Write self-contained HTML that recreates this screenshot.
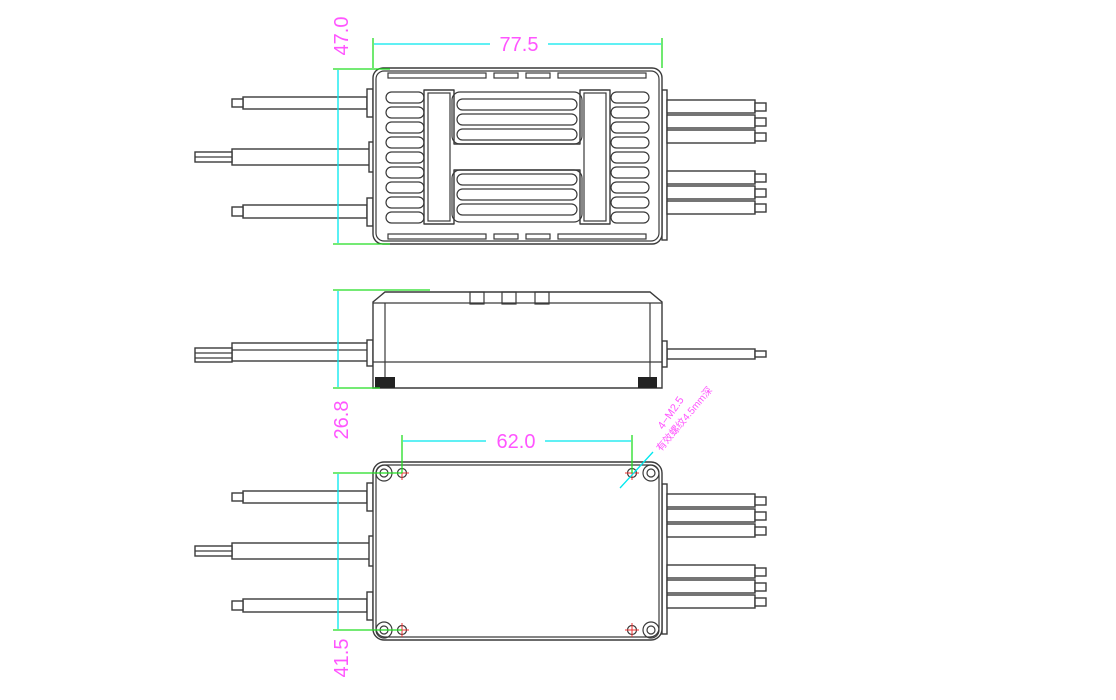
<!DOCTYPE html>
<html><head><meta charset="utf-8"><style>
html,body{margin:0;padding:0;background:#fff;}
svg{display:block}
.l{fill:#fff;stroke:#3a3a3a;stroke-width:1.4}
.n{fill:none;stroke:#3a3a3a;stroke-width:1.2}
.c{stroke:#00e8ee;stroke-width:1.3;fill:none}
.g{stroke:#22dd22;stroke-width:1.3;fill:none}
.t{fill:#ff55ff;font-family:"Liberation Sans",sans-serif;font-size:20px}
</style></head><body>
<svg width="1116" height="700" viewBox="0 0 1116 700" xmlns="http://www.w3.org/2000/svg">
<defs>
<g id="lw">
  <rect class="l" x="243" y="97" width="124" height="12"/>
  <rect class="l" x="232" y="99" width="11" height="8"/>
  <rect class="l" x="367" y="89" width="6" height="28"/>
  <rect class="l" x="232" y="149" width="138" height="16"/>
  <rect class="l" x="195" y="152" width="37" height="10"/>
  <line class="n" x1="195" y1="157" x2="232" y2="157"/>
  <rect class="l" x="369" y="142" width="5" height="30"/>
  <rect class="l" x="243" y="205" width="124" height="13"/>
  <rect class="l" x="232" y="207" width="11" height="9"/>
  <rect class="l" x="367" y="198" width="6" height="28"/>
</g>
<g id="rw">
  <rect class="l" x="662" y="90" width="5" height="150"/>
  <rect class="l" x="667" y="100" width="88" height="13"/><rect class="l" x="755" y="103" width="11" height="8"/>
  <rect class="l" x="667" y="115" width="88" height="13"/><rect class="l" x="755" y="118" width="11" height="8"/>
  <rect class="l" x="667" y="130" width="88" height="13"/><rect class="l" x="755" y="133" width="11" height="8"/>
  <rect class="l" x="667" y="171" width="88" height="13"/><rect class="l" x="755" y="174" width="11" height="8"/>
  <rect class="l" x="667" y="186" width="88" height="13"/><rect class="l" x="755" y="189" width="11" height="8"/>
  <rect class="l" x="667" y="201" width="88" height="13"/><rect class="l" x="755" y="204" width="11" height="8"/>
</g>
</defs>

<!-- TOP VIEW -->
<use href="#lw"/>
<use href="#rw"/>
<rect class="l" x="373" y="68" width="289" height="176" rx="10"/>
<rect class="n" x="376" y="71" width="283" height="170" rx="8"/>
<g class="n">
<rect x="388" y="73" width="98" height="5"/><rect x="494" y="73" width="24" height="5"/><rect x="526" y="73" width="24" height="5"/><rect x="558" y="73" width="88" height="5"/>
<rect x="388" y="234" width="98" height="5"/><rect x="494" y="234" width="24" height="5"/><rect x="526" y="234" width="24" height="5"/><rect x="558" y="234" width="88" height="5"/>
</g>
<g class="n">
<rect x="386" y="92" width="38" height="11" rx="5.5"/><rect x="386" y="107" width="38" height="11" rx="5.5"/><rect x="386" y="122" width="38" height="11" rx="5.5"/><rect x="386" y="137" width="38" height="11" rx="5.5"/><rect x="386" y="152" width="38" height="11" rx="5.5"/><rect x="386" y="167" width="38" height="11" rx="5.5"/><rect x="386" y="182" width="38" height="11" rx="5.5"/><rect x="386" y="197" width="38" height="11" rx="5.5"/><rect x="386" y="212" width="38" height="11" rx="5.5"/>
<rect x="611" y="92" width="38" height="11" rx="5.5"/><rect x="611" y="107" width="38" height="11" rx="5.5"/><rect x="611" y="122" width="38" height="11" rx="5.5"/><rect x="611" y="137" width="38" height="11" rx="5.5"/><rect x="611" y="152" width="38" height="11" rx="5.5"/><rect x="611" y="167" width="38" height="11" rx="5.5"/><rect x="611" y="182" width="38" height="11" rx="5.5"/><rect x="611" y="197" width="38" height="11" rx="5.5"/><rect x="611" y="212" width="38" height="11" rx="5.5"/>
</g>
<path class="l" d="M424 90 H454 V144 H580 V90 H610 V224 H580 V170 H454 V224 H424 Z" stroke-linejoin="round"/>
<rect class="n" x="428" y="93" width="22" height="128"/>
<rect class="n" x="584" y="93" width="22" height="128"/>
<rect class="n" x="452" y="92" width="130" height="52" rx="8"/>
<rect class="n" x="452" y="170" width="130" height="52" rx="8"/>
<g class="n">
<rect x="457" y="99" width="120" height="11" rx="5.5"/><rect x="457" y="114" width="120" height="11" rx="5.5"/><rect x="457" y="129" width="120" height="11" rx="5.5"/>
<rect x="457" y="174" width="120" height="11" rx="5.5"/><rect x="457" y="189" width="120" height="11" rx="5.5"/><rect x="457" y="204" width="120" height="11" rx="5.5"/>
</g>
<line class="g" x1="373" y1="38" x2="373" y2="68"/><line class="g" x1="662" y1="38" x2="662" y2="68"/>
<line class="c" x1="374" y1="44" x2="490" y2="44"/><line class="c" x1="548" y1="44" x2="661" y2="44"/>
<text class="t" x="519" y="51" text-anchor="middle">77.5</text>
<line class="g" x1="333" y1="69" x2="390" y2="69"/><line class="g" x1="333" y1="244" x2="390" y2="244"/>
<line class="c" x1="338" y1="70" x2="338" y2="243"/>
<text class="t" transform="translate(348,36) rotate(-90)" text-anchor="middle">47.0</text>

<!-- SIDE VIEW -->
<rect class="l" x="232" y="343" width="137" height="18"/>
<line class="n" x1="232" y1="350" x2="369" y2="350"/>
<rect class="l" x="195" y="348" width="37" height="14"/>
<line class="n" x1="195" y1="353" x2="232" y2="353"/><line class="n" x1="195" y1="358" x2="232" y2="358"/>
<rect class="l" x="367" y="340" width="6" height="26"/>
<rect class="l" x="667" y="349" width="88" height="10"/><rect class="l" x="755" y="351" width="11" height="6"/>
<rect class="l" x="662" y="341" width="5" height="26"/>
<path class="l" d="M373 388 V302 L385 292 H650 L662 302 V388 Z"/>
<line class="n" x1="373" y1="303" x2="662" y2="303"/>
<line class="n" x1="385" y1="303" x2="385" y2="388"/><line class="n" x1="650" y1="303" x2="650" y2="388"/>
<line class="n" x1="373" y1="362" x2="662" y2="362"/>
<rect class="n" x="470" y="292" width="14" height="12"/><rect class="n" x="502" y="292" width="14" height="12"/><rect class="n" x="535" y="292" width="14" height="12"/>
<rect x="375" y="377" width="20" height="11" fill="#222"/><rect x="638" y="377" width="19" height="11" fill="#222"/>
<line class="g" x1="333" y1="290" x2="430" y2="290"/><line class="g" x1="333" y1="388" x2="380" y2="388"/>
<line class="c" x1="338" y1="291" x2="338" y2="387"/>
<text class="t" transform="translate(348,420) rotate(-90)" text-anchor="middle">26.8</text>

<!-- BOTTOM VIEW -->
<use href="#lw" transform="translate(0,394)"/>
<use href="#rw" transform="translate(0,394)"/>
<rect class="l" x="373" y="462" width="289" height="178" rx="11"/>
<rect class="n" x="376" y="465" width="283" height="172" rx="9"/>
<g class="n" stroke-width="1.5">
<circle cx="384" cy="473" r="8"/><circle cx="384" cy="473" r="4"/>
<circle cx="651" cy="473" r="8"/><circle cx="651" cy="473" r="4"/>
<circle cx="384" cy="630" r="8"/><circle cx="384" cy="630" r="4"/>
<circle cx="651" cy="630" r="8"/><circle cx="651" cy="630" r="4"/>
<circle cx="402" cy="473" r="4.5"/><circle cx="632" cy="473" r="4.5"/><circle cx="402" cy="630" r="4.5"/><circle cx="632" cy="630" r="4.5"/>
</g>
<g stroke="#e33" stroke-width="1">
<path d="M395 473h14M402 466v14M625 473h14M632 466v14M395 630h14M402 623v14M625 630h14M632 623v14"/>
</g>
<line class="g" x1="402" y1="435" x2="402" y2="473"/><line class="g" x1="632" y1="435" x2="632" y2="473"/>
<line class="c" x1="403" y1="441" x2="486" y2="441"/><line class="c" x1="545" y1="441" x2="631" y2="441"/>
<text class="t" x="516" y="448" text-anchor="middle">62.0</text>
<line class="g" x1="333" y1="473" x2="402" y2="473"/><line class="g" x1="333" y1="630" x2="402" y2="630"/>
<line class="c" x1="338" y1="474" x2="338" y2="629"/>
<text class="t" transform="translate(348,658) rotate(-90)" text-anchor="middle">41.5</text>
<line class="c" x1="620" y1="488" x2="653" y2="452"/>
<text fill="#ff55ff" font-family="Liberation Sans,sans-serif" font-size="11" transform="translate(663,430) rotate(-55)">4−M2.5</text>
<text fill="#ff55ff" font-family="Liberation Sans,'Noto Sans CJK SC',sans-serif" font-size="10" transform="translate(661,452) rotate(-50)">有效螺纹4.5mm深</text>
</svg>
</body></html>
